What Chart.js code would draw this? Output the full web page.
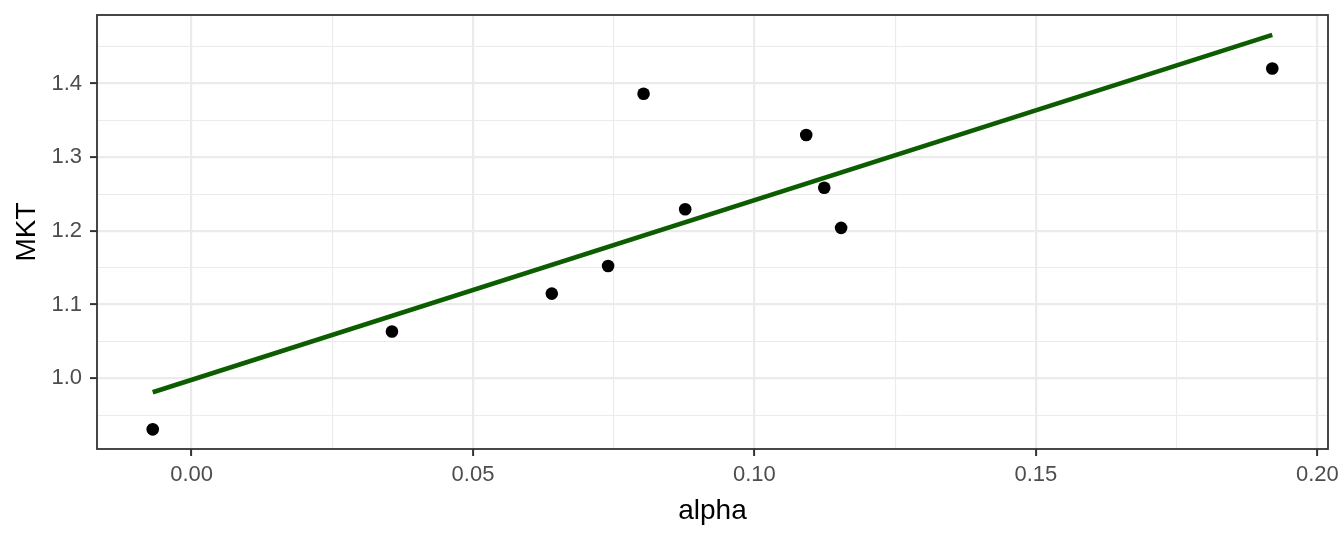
<!DOCTYPE html>
<html>
<head>
<meta charset="utf-8">
<script src="https://cdn.jsdelivr.net/npm/chart.js@4"></script>
<style>
  html, body { margin: 0; padding: 0; background: #fff; }
  canvas { display: block; }
</style>
</head>
<body>
<canvas id="chart" width="1344" height="537"></canvas>
<script>
// points
var alpha = [-0.0069, 0.0356, 0.0640, 0.0740, 0.0803, 0.0877, 0.1092, 0.1124, 0.1154, 0.1920];
var mkt   = [0.9307, 1.0635, 1.1149, 1.1523, 1.3861, 1.2293, 1.3301, 1.2585, 1.2041, 1.4203];

// fitted line ends
var fitAlpha = [-0.0069, 0.1920];
var fitMkt   = [0.981, 1.466];

var xMajor = [0.00, 0.05, 0.10, 0.15, 0.20];
var xMinor = [0.025, 0.075, 0.125, 0.175];
var yMajor = [1.0, 1.1, 1.2, 1.3, 1.4];
var yMinor = [0.95, 1.05, 1.15, 1.25, 1.35, 1.45];

var xRange = [-0.0168, 0.2019];
var yRange = [0.904, 1.493];

function isMajor(list, v) {
  return list.some(function (m) { return Math.abs(m - v) < 1e-9; });
}

function setTicks(major, minor) {
  return function (axis) {
    axis.ticks = major.concat(minor).sort(function (a, b) { return a - b; })
      .map(function (v) { return { value: v }; });
  };
}

var font = 'Liberation Sans, Arial, Helvetica, sans-serif';

// ggplot-like panel border
var panelBorder = {
  id: 'panelBorder',
  afterDraw: function (chart) {
    var a = chart.chartArea, ctx = chart.ctx;
    ctx.save();
    ctx.strokeStyle = '#333333';
    ctx.lineWidth = 1.8;
    ctx.strokeRect(a.left, a.top, a.right - a.left, a.bottom - a.top);
    ctx.restore();
  }
};

var ctx = document.getElementById('chart').getContext('2d');
var myChart = new Chart(ctx, {
  type: 'scatter',
  data: {
    datasets: [{
      data: alpha.map(function (x, i) { return { x: x, y: mkt[i] }; }),
      backgroundColor: '#000000',
      borderWidth: 0,
      pointRadius: 6.3,
      order: 0
    }, {
      data: fitAlpha.map(function (x, i) { return { x: x, y: fitMkt[i] }; }),
      showLine: true,
      borderColor: '#0c5c00',
      borderWidth: 4.6,
      borderCapStyle: 'butt',
      pointRadius: 0,
      order: 1
    }]
  },
  options: {
    responsive: false,
    devicePixelRatio: 1,
    animation: false,
    layout: { padding: { left: 0, right: 16, top: 15, bottom: 0 } },
    plugins: { legend: { display: false }, tooltip: { enabled: false } },
    scales: {
      x: {
        type: 'linear',
        min: xRange[0],
        max: xRange[1],
        afterBuildTicks: setTicks(xMajor, xMinor),
        afterFit: function (s) { s.height = 88; s.paddingLeft = 0; s.paddingRight = 0; },
        border: { display: false },
        grid: {
          color: '#ebebeb',
          lineWidth: function (c) { return isMajor(xMajor, c.tick.value) ? 2.2 : 1.1; },
          tickColor: function (c) { return isMajor(xMajor, c.tick.value) ? '#333333' : 'rgba(0,0,0,0)'; },
          tickWidth: 2,
          tickLength: 7
        },
        ticks: {
          autoSkip: false,
          maxRotation: 0,
          padding: 6,
          color: '#4d4d4d',
          font: { family: font, size: 22 },
          callback: function (v) { return isMajor(xMajor, v) ? v.toFixed(2) : ''; }
        },
        title: {
          display: true,
          text: 'alpha',
          color: '#000000',
          font: { family: font, size: 28 },
          padding: { top: 0, bottom: 9 }
        }
      },
      y: {
        type: 'linear',
        min: yRange[0],
        max: yRange[1],
        afterBuildTicks: setTicks(yMajor, yMinor),
        afterFit: function (s) { s.width = 97; s.paddingTop = 0; s.paddingBottom = 0; },
        border: { display: false },
        grid: {
          color: '#ebebeb',
          lineWidth: function (c) { return isMajor(yMajor, c.tick.value) ? 2.2 : 1.1; },
          tickColor: function (c) { return isMajor(yMajor, c.tick.value) ? '#333333' : 'rgba(0,0,0,0)'; },
          tickWidth: 2,
          tickLength: 7
        },
        ticks: {
          autoSkip: false,
          padding: 8,
          color: '#4d4d4d',
          font: { family: font, size: 22 },
          callback: function (v) { return isMajor(yMajor, v) ? v.toFixed(1) : ''; }
        },
        title: {
          display: true,
          text: 'MKT',
          color: '#000000',
          font: { family: font, size: 28 },
          padding: { top: 10, bottom: 0 }
        }
      }
    }
  },
  plugins: [panelBorder]
});
</script>
</body>
</html>
